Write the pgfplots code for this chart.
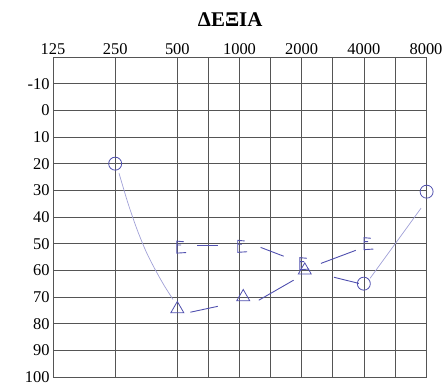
\documentclass[border=0pt]{standalone}
\usepackage{pgfplots}
\pgfplotsset{compat=1.18}
\usepackage{fontspec}
\setmainfont{Liberation Serif}
\definecolor{ink}{RGB}{80,80,175}
\definecolor{lightink}{RGB}{160,160,215}
\definecolor{gridc}{RGB}{85,85,85}
\pgfdeclareplotmark{bracket}{%
  \pgfpathmoveto{\pgfqpoint{0.55\pgfplotmarksize}{0.9\pgfplotmarksize}}%
  \pgfpathlineto{\pgfqpoint{-0.6\pgfplotmarksize}{\pgfplotmarksize}}%
  \pgfpathlineto{\pgfqpoint{-0.6\pgfplotmarksize}{-\pgfplotmarksize}}%
  \pgfpathlineto{\pgfqpoint{0.95\pgfplotmarksize}{-0.9\pgfplotmarksize}}%
  \pgfpathmoveto{\pgfqpoint{-0.6\pgfplotmarksize}{0.35\pgfplotmarksize}}%
  \pgfpathlineto{\pgfqpoint{0.1\pgfplotmarksize}{0.35\pgfplotmarksize}}%
  \pgfusepathqstroke}
\begin{document}
\begin{tikzpicture}
\begin{axis}[
  scale only axis, width=373bp, height=320bp,
  xmin=0, xmax=6, ymin=-20, ymax=100, y dir=reverse,
  clip=false,
  xtick={0,...,6}, xticklabels={125,250,500,1000,2000,4000,8000},
  xticklabel pos=top,
  minor xtick={2.5,3.5,4.5,5.5},
  ytick={-10,0,...,100},
  grid=both,
  major grid style={gridc, line width=0.6pt},
  minor grid style={gridc, line width=0.6pt},
  axis line style={gridc, line width=0.8pt},
  major tick length=0pt, minor tick length=0pt,
  tick label style={font=\fontsize{16.5}{16.5}\selectfont},
  xticklabel style={yshift=-1bp},
  /pgf/number format/assume math mode=true,
  title={\textbf{ΔΕΞΙΑ}},
  title style={font=\fontsize{21}{21}\selectfont, at={(0.475,1)}, anchor=base, yshift=25bp},
]
% thin solid connecting lines
\addplot[lightink, line width=0.7pt, smooth, no marks] coordinates {(1.062,23.6) (1.207,34.9) (1.351,44.6) (1.496,52.9) (1.641,59.6) (1.786,65.6) (1.930,70.9)};
\addplot[lightink, line width=0.7pt, no marks] coordinates {(5.10,63) (5.92,36.7)};
% dashed pieces
\addplot[ink, line width=0.9pt, no marks] coordinates {(2.21,75.7) (2.65,73.5)};
\addplot[ink, line width=0.9pt, no marks] coordinates {(3.31,71.2) (3.87,63.7)};
\addplot[ink, line width=0.9pt, no marks] coordinates {(2.32,50.6) (2.65,50.6)};
\addplot[ink, line width=0.9pt, no marks] coordinates {(3.34,51.4) (3.71,54.7)};
\addplot[ink, line width=0.9pt, no marks] coordinates {(4.31,57.4) (4.87,52.5)};
\addplot[ink, line width=0.9pt, no marks] coordinates {(4.52,62.6) (4.92,64.9)};
% air conduction circles
\addplot[ink, only marks, mark=o, mark size=6.5bp, line width=0.8pt] coordinates {(1,20) (5,65) (6.01,30.5)};
% triangles
\addplot[ink, only marks, mark=triangle, mark size=7.5bp, line width=0.8pt] coordinates {(2,74.5) (3.06,70) (4.05,60)};
% bone conduction brackets
\addplot[ink, only marks, mark=bracket, mark size=6bp, line width=0.9pt] coordinates {(2.05,51.3) (3.03,51) (4.03,57.5) (5.06,50)};
\end{axis}
\path (current axis.south west) ++(-53bp,-10bp) (current axis.north east) ++(22bp,57bp);
\end{tikzpicture}
\end{document}
